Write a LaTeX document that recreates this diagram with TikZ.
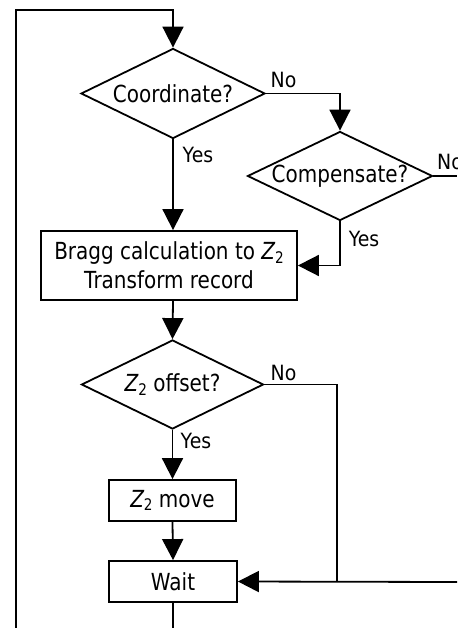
\documentclass[tikz,border=0pt]{standalone}
\usepackage{fontspec}
\setmainfont{DejaVu Sans}[FakeStretch=0.85]
\newfontfamily\lblfont{DejaVu Sans}[FakeStretch=0.9]
\usetikzlibrary{arrows.meta,shapes.geometric}
\newcommand{\ztwo}{{\itshape Z}\raisebox{-0.28ex}{\fontsize{16}{16}\selectfont 2}}
\begin{document}
\begin{tikzpicture}[x=1pt,y=-1pt,line width=1.8pt,
  txt/.style={font=\fontsize{23.5}{29}\selectfont},
  dec/.style={diamond,draw,inner sep=0pt,minimum width=184pt,minimum height=90pt},
  box/.style={draw,inner sep=0pt,align=center,txt},
  arr/.style={-{Triangle[length=21pt,width=21pt]}},
  lbl/.style={font=\lblfont\fontsize{21}{24}\selectfont,inner sep=0pt}]
\useasboundingbox[fill=white] (0,0) rectangle (457,628);

% decisions
\node[dec,label={[txt]center:Coordinate?}] (coord) at (173,93.5) {};
\node[dec,minimum width=185pt,minimum height=89pt,label={[txt]center:Compensate?}] (comp) at (340,176) {};
\node[dec,minimum width=182pt,minimum height=89pt,label={[txt]center:\ztwo\ offset?}] (zoff) at (172.5,384.5) {};

% boxes
\node[box,minimum width=256pt,minimum height=69pt] (bragg) at (169,265.5) {Bragg calculation to \ztwo\\Transform record};
\node[box,minimum width=127pt,minimum height=41pt] (zmove) at (172.5,500.5) {\ztwo\ move};
\node[box,minimum width=128pt,minimum height=41pt] (wait) at (173,581.5) {Wait};

% free ends
\coordinate (loopbl) at (16,628);
\coordinate (looptl) at (16,10);
\coordinate (compout) at (457,176);
\coordinate (rin) at (457,582);
\coordinate (nojoin) at (337,582);
\coordinate (waitout) at (173,628);

% connectors
\draw[arr] (loopbl) -- (looptl) -| (coord.north);
\draw[arr] (coord.east) -| (comp.north);
\draw (comp.east) -- (compout);
\draw[arr] (coord.south) -- (coord.south |- bragg.north);
\draw[arr] (comp.south) |- (bragg.east);
\draw[arr] (bragg.south -| coord.south) -- (zoff.north);
\draw[arr] (zoff.south) -- (zmove.north);
\draw[arr] (zmove.south) -- (wait.north);
\draw (zoff.east) -| (nojoin);
\draw[arr] (rin) -- (wait.east);
\draw (wait.south) -- (waitout);

% labels
\node[lbl] (l1) at (283.5,79.5) {No};
\node[lbl] (l2) at (198,155) {Yes};
\node[lbl] (l3) at (450,162) {No};
\node[lbl] (l4) at (364,238.5) {Yes};
\node[lbl] (l5) at (283.5,372.5) {No};
\node[lbl] (l6) at (196,441) {Yes};
\end{tikzpicture}
\end{document}
